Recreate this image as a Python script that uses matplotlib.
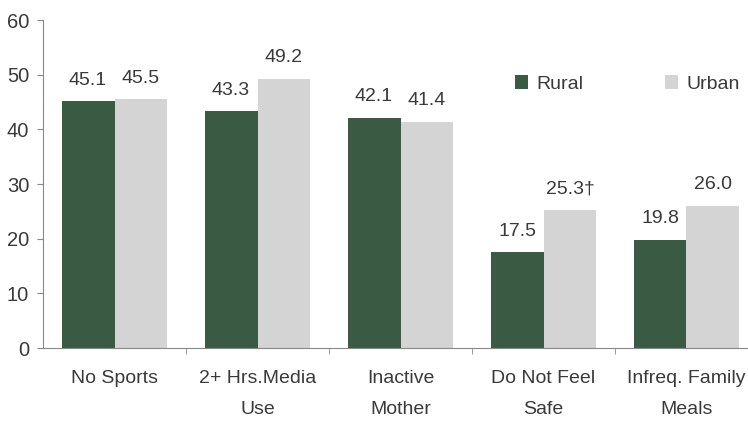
import matplotlib.pyplot as plt
import numpy as np

categories = ['No Sports', '2+ Hrs.Media\nUse', 'Inactive\nMother', 'Do Not Feel\nSafe', 'Infreq. Family\nMeals']
rural = [45.1, 43.3, 42.1, 17.5, 19.8]
urban = [45.5, 49.2, 41.4, 25.3, 26.0]
rural_labels = ['45.1', '43.3', '42.1', '17.5', '19.8']
urban_labels = ['45.5', '49.2', '41.4', '25.3\u2020', '26.0']

plt.rcParams['font.family'] = ['Liberation Sans', 'DejaVu Sans']
text_color = '#3a3a3a'

fig = plt.figure(figsize=(7.48, 4.22), dpi=100)
ax = fig.add_axes([43 / 748, (422 - 348) / 422, 715 / 748, (348 - 20) / 422])

x = np.arange(len(categories))
w = 0.37
b1 = ax.bar(x - w / 2, rural, w, color='#3b5a43', label='Rural')
b2 = ax.bar(x + w / 2, urban, w, color='#d4d4d4', label='Urban')

for bar, lab in zip(b1, rural_labels):
    ax.text(bar.get_x() + bar.get_width() / 2, bar.get_height() + 2.3, lab,
            ha='center', va='bottom', fontsize=14, color=text_color)
for bar, lab in zip(b2, urban_labels):
    ax.text(bar.get_x() + bar.get_width() / 2, bar.get_height() + 2.3, lab,
            ha='center', va='bottom', fontsize=14, color=text_color)

ax.set_xlim(-0.5, 4.5)
ax.set_ylim(0, 60)
ax.set_yticks(range(0, 61, 10))
ax.set_xticks(x)
ax.set_xticklabels(categories, fontsize=14, color=text_color, linespacing=2.05)
ax.set_xticks(np.arange(0.5, 4.5, 1), minor=True)
ax.tick_params(axis='x', which='major', length=0, pad=16)
ax.tick_params(axis='x', which='minor', length=4, color='#888888')
ax.tick_params(axis='y', labelsize=14.5, labelcolor=text_color, length=4, color='#888888', pad=6)

for s in ['top', 'right']:
    ax.spines[s].set_visible(False)
ax.spines['left'].set_color('#888888')
ax.spines['bottom'].set_color('#888888')
ax.spines['left'].set_linewidth(0.8)
ax.spines['bottom'].set_linewidth(0.8)

fig.legend(loc='center', bbox_to_anchor=(627 / 748, 1 - 84 / 422), ncol=2, frameon=False,
           fontsize=14, handlelength=0.7, handleheight=0.7, columnspacing=4.2,
           handletextpad=0.4, labelcolor=text_color)

fig.savefig('out.png', dpi=100)
